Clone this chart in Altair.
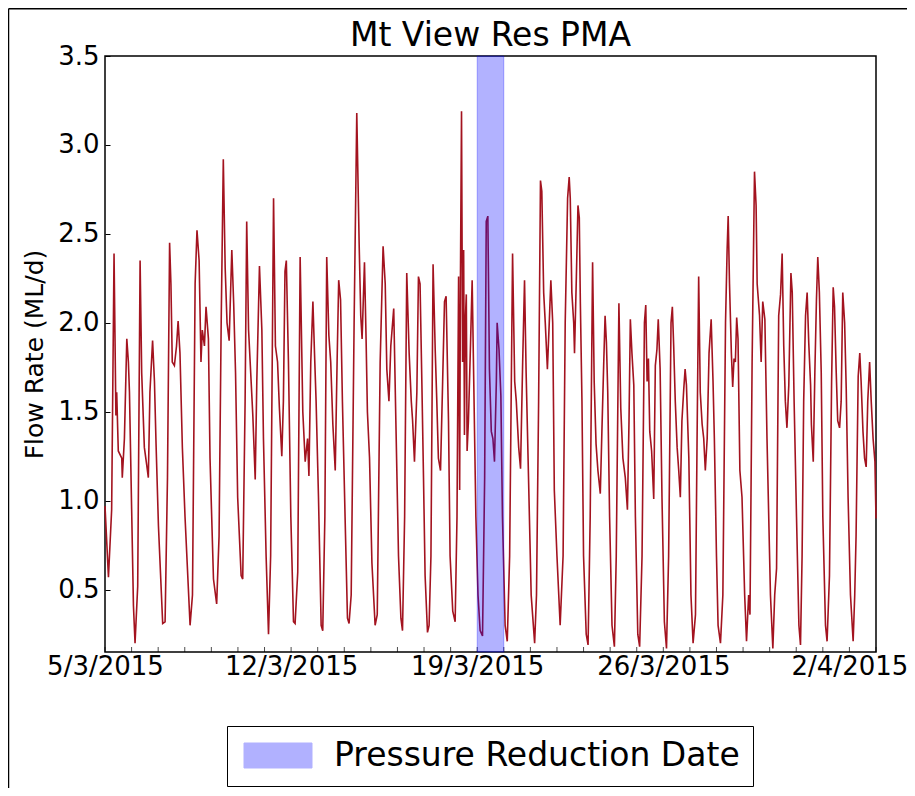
import altair as alt
import pandas as pd

TITLE = "Mt View Res PMA"
Y_TITLE = "Flow Rate (ML/d)"
LEGEND_LABEL = "Pressure Reduction Date"
x_tick_days = [0, 7, 14, 21, 28]
x_tick_labels = ["5/3/2015", "12/3/2015", "19/3/2015", "26/3/2015", "2/4/2015"]
x_minor_tick_days = list(range(0, 30))
y_ticks = [0.5, 1.0, 1.5, 2.0, 2.5, 3.0, 3.5]
band_start_day = [14.0]
band_end_day = [15.0]

# days since 5/3/2015 00:00
t_days = [
    0.00, 0.13, 0.25, 0.34, 0.41, 0.44, 0.50, 0.63, 0.65, 0.73,
    0.82, 0.88, 0.92, 1.07, 1.13, 1.23, 1.32, 1.38, 1.48, 1.57,
    1.63, 1.69, 1.79, 1.86, 1.92, 2.01, 2.17, 2.26, 2.35, 2.43,
    2.48, 2.53, 2.61, 2.69, 2.75, 2.82, 2.91, 3.01, 3.20, 3.29,
    3.39, 3.46, 3.54, 3.61, 3.66, 3.74, 3.80, 3.89, 3.95, 4.08,
    4.20, 4.29, 4.37, 4.45, 4.52, 4.59, 4.67, 4.77, 4.84, 4.91,
    4.99, 5.12, 5.18, 5.27, 5.33, 5.40,
    5.56, 5.65, 5.71, 5.81, 5.90, 5.96, 6.06, 6.15, 6.23, 6.34,
    6.41, 6.49, 6.56, 6.65, 6.71, 6.77, 6.82, 6.90, 6.99, 7.09,
    7.15, 7.25, 7.34, 7.44, 7.53, 7.62, 7.67, 7.74, 7.82, 7.88,
    7.94, 8.03, 8.13, 8.19, 8.27, 8.34, 8.42, 8.49, 8.57, 8.66,
    8.73, 8.79, 8.86, 8.93, 9.03, 9.12, 9.18, 9.26, 9.37, 9.47,
    9.56, 9.62, 9.67, 9.76, 9.82, 9.87, 9.95, 10.04, 10.16, 10.24,
    10.35, 10.46, 10.54, 10.60, 10.68, 10.75, 10.86, 10.94, 11.04, 11.13,
    11.19, 11.27,
    11.35, 11.44, 11.52, 11.57, 11.64, 11.73, 11.79, 11.85, 11.92, 11.98,
    12.04, 12.13, 12.19, 12.26, 12.34, 12.42, 12.48, 12.54, 12.62, 12.70,
    12.77, 12.83, 12.92, 12.98, 13.08, 13.17, 13.24, 13.30, 13.34, 13.37,
    13.41, 13.45, 13.49, 13.52, 13.55, 13.59, 13.62, 13.67, 13.75, 13.81,
    13.87, 13.95, 14.03, 14.11, 14.20, 14.28, 14.34, 14.40, 14.46, 14.53,
    14.59, 14.65, 14.72, 14.75, 14.82, 14.89, 14.95, 15.05, 15.13, 15.22,
    15.33, 15.41, 15.47, 15.56, 15.63, 15.71, 15.78, 15.84, 15.93, 16.03,
    16.16, 16.23, 16.31, 16.38, 16.43, 16.50, 16.56, 16.64, 16.71, 16.77,
    16.84, 16.90, 17.00, 17.12,
    17.23, 17.31, 17.40, 17.46, 17.50, 17.56, 17.63, 17.66, 17.73, 17.79,
    17.84, 17.88, 17.94, 18.00, 18.10, 18.17, 18.25, 18.34, 18.40, 18.47,
    18.54, 18.63, 18.69, 18.76, 18.81, 18.86, 18.91, 18.98, 19.07, 19.16,
    19.23, 19.33, 19.40, 19.48, 19.57, 19.65, 19.71, 19.76, 19.82, 19.89,
    19.95, 20.04, 20.11, 20.20, 20.29, 20.34, 20.39, 20.44, 20.49, 20.56,
    20.64, 20.70, 20.76, 20.81, 20.88, 20.95, 21.04, 21.12, 21.20, 21.29,
    21.34, 21.39, 21.45, 21.52, 21.58, 21.64, 21.70, 21.77, 21.82, 21.87,
    21.96, 22.04, 22.12, 22.21, 22.27, 22.33, 22.39, 22.46, 22.52, 22.58,
    22.65, 22.72, 22.80, 22.87, 22.92, 23.00,
    23.06, 23.15, 23.24, 23.34, 23.40, 23.44, 23.49, 23.56, 23.61, 23.66,
    23.71, 23.76, 23.81, 23.88, 23.96, 24.06, 24.13, 24.21, 24.26, 24.34,
    24.43, 24.49, 24.53, 24.62, 24.68, 24.74, 24.82, 24.90, 25.03, 25.12,
    25.19, 25.26, 25.34, 25.41, 25.47, 25.53, 25.59, 25.65, 25.72, 25.80,
    25.85, 25.92, 26.01, 26.10, 26.16, 26.22, 26.28, 26.35, 26.41, 26.47,
    26.54, 26.57, 26.64, 26.70, 26.76, 26.81, 26.87, 26.94, 27.00, 27.10,
    27.16, 27.25, 27.33, 27.39, 27.44, 27.50, 27.56, 27.63, 27.69, 27.75,
    27.82, 27.88, 27.95, 28.04, 28.14, 28.20, 28.25, 28.33, 28.39, 28.44,
    28.51, 28.57, 28.63, 28.69, 28.76, 28.82, 28.89, 28.96, 29.00,
]

flow = [
    0.97, 0.57, 0.95, 2.39, 1.48, 1.61, 1.28, 1.24, 1.13, 1.35,
    1.91, 1.78, 1.61, 0.41, 0.20, 0.52, 2.35, 1.72, 1.30, 1.20,
    1.13, 1.61, 1.90, 1.67, 1.32, 0.86, 0.31, 0.32, 1.13, 2.45,
    2.22, 1.78, 1.76, 1.87, 2.01, 1.83, 1.30, 0.91, 0.30, 0.47,
    2.22, 2.52, 2.35, 1.78, 1.96, 1.87, 2.09, 1.91, 1.24, 0.56,
    0.42, 0.80, 2.00, 2.92, 2.31, 2.00, 1.90, 2.41, 2.11, 1.72,
    1.02, 0.58, 0.56, 1.56, 2.57, 1.96,
    1.48, 1.12, 1.67, 2.32, 1.96, 1.35, 0.69, 0.25, 0.69, 2.70,
    1.87, 1.78, 1.52, 1.25, 1.56, 2.29, 2.35, 1.78, 0.91, 0.32,
    0.31, 0.60, 2.37, 1.50, 1.22, 1.35, 1.14, 1.78, 2.12, 1.83,
    1.56, 1.02, 0.30, 0.27, 0.91, 2.37, 1.93, 1.78, 1.43, 1.17,
    1.78, 2.24, 2.13, 1.56, 0.91, 0.34, 0.31, 0.47, 2.00, 3.18,
    2.44, 2.04, 1.91, 2.34, 1.91, 1.50, 1.24, 0.65, 0.30, 0.36,
    1.78, 2.43, 2.22, 1.74, 1.56, 1.87, 2.08, 1.45, 0.69, 0.34,
    0.27, 0.91,
    2.28, 1.83, 1.56, 1.45, 1.22, 1.61, 2.26, 2.22, 1.65, 1.13,
    0.58, 0.26, 0.30, 0.69, 2.33, 1.85, 1.56, 1.24, 1.17, 1.67,
    2.12, 2.15, 1.45, 0.69, 0.38, 0.32, 0.91, 2.26, 1.06, 2.26,
    3.19, 1.78, 2.41, 1.37, 2.00, 2.16, 1.28, 1.45, 1.89, 2.24,
    1.67, 0.91, 0.47, 0.27, 0.24, 1.13, 2.57, 2.60, 1.74, 1.39,
    1.35, 1.22, 1.67, 2.00, 1.85, 1.59, 0.91, 0.30, 0.21, 0.69,
    2.39, 1.67, 1.56, 1.30, 1.18, 1.78, 2.24, 1.72, 1.13, 0.47,
    0.20, 0.47, 1.56, 2.80, 2.74, 2.17, 2.00, 1.74, 2.00, 2.24,
    2.00, 1.06, 0.69, 0.30,
    0.69, 2.00, 2.70, 2.82, 2.70, 2.17, 2.00, 1.83, 2.26, 2.66,
    2.59, 2.11, 1.56, 0.69, 0.25, 0.19, 0.91, 2.34, 1.67, 1.32,
    1.17, 1.04, 1.39, 1.78, 2.04, 1.89, 1.61, 0.91, 0.30, 0.18,
    0.69, 2.11, 1.52, 1.24, 1.13, 0.95, 1.45, 2.02, 1.83, 1.65,
    0.91, 0.25, 0.18, 0.69, 2.00, 2.10, 1.67, 1.80, 1.39, 1.28,
    1.01, 1.76, 1.85, 2.02, 1.74, 1.02, 0.32, 0.17, 0.69, 2.00,
    2.09, 1.87, 1.56, 1.30, 1.17, 1.02, 1.45, 1.63, 1.74, 1.65,
    1.24, 0.47, 0.20, 0.36, 1.35, 2.26, 1.61, 1.43, 1.35, 1.17,
    1.35, 1.83, 2.02, 1.67, 1.35, 0.69,
    0.30, 0.20, 0.47, 2.00, 2.41, 2.60, 2.22, 1.83, 1.64, 1.80,
    1.78, 2.03, 1.91, 1.17, 1.02, 0.47, 0.21, 0.47, 0.36, 1.78,
    2.85, 2.66, 2.22, 2.04, 1.78, 2.12, 2.02, 1.35, 0.47, 0.17,
    0.47, 0.62, 2.04, 2.16, 2.39, 1.87, 1.56, 1.41, 1.65, 2.28,
    2.17, 1.56, 0.91, 0.30, 0.19, 0.69, 1.56, 2.04, 2.17, 1.89,
    1.65, 1.43, 1.22, 1.72, 2.13, 2.37, 2.17, 1.72, 0.91, 0.30,
    0.21, 0.58, 1.67, 2.20, 2.09, 1.74, 1.45, 1.41, 1.56, 2.17,
    2.00, 1.63, 1.02, 0.47, 0.21, 0.47, 0.80, 1.70, 1.83, 1.67,
    1.39, 1.24, 1.19, 1.56, 1.78, 1.56, 1.35, 1.22, 0.90,
]

df = pd.DataFrame({"t": t_days, "flow": flow})
band = pd.DataFrame({"start": band_start_day, "end": band_end_day,
                     "label": [LEGEND_LABEL]})
minor = pd.DataFrame({"day": x_minor_tick_days})
one = pd.DataFrame({"k": [0]})

label_expr = " : ".join(
    f"datum.value == {d} ? '{l}'" for d, l in zip(x_tick_days, x_tick_labels)
) + " : ''"

FONT = "DejaVu Sans"
W, H = 771, 596
PAD = {"left": 97, "top": 48, "right": 31, "bottom": 136}

x_scale = alt.Scale(domain=[0, 29], nice=False, zero=False)
y_scale = alt.Scale(domain=[0.15, 3.5], nice=False, zero=False)

x_axis = alt.Axis(
    values=x_tick_days, labelExpr=label_expr, domain=False, grid=False,
    ticks=False, labelFontSize=26, labelFont=FONT, labelColor="black",
    labelPadding=1, labelOverlap=False, labelFlush=False, title=None,
)
y_axis = alt.Axis(
    values=y_ticks, format=".1f", domain=False, grid=False,
    tickSize=5, offset=-5, tickColor="black", tickWidth=1,
    labelFontSize=26, labelFont=FONT, labelColor="black", labelPadding=6,
    title=Y_TITLE, titleFontSize=25, titleFont=FONT, titleFontWeight="normal",
    titleColor="black", titlePadding=10,
)

line = alt.Chart(df).mark_line(color="#a3131f", strokeWidth=1.6).encode(
    x=alt.X("t:Q", scale=x_scale, axis=x_axis),
    y=alt.Y("flow:Q", scale=y_scale, axis=y_axis),
)

minor_ticks = alt.Chart(minor).mark_tick(
    orient="vertical", size=5, thickness=1, color="black"
).encode(
    x=alt.X("day:Q", scale=x_scale, axis=x_axis),
    y=alt.value(H - 2.5),
)

rect = alt.Chart(band).mark_rect(
    stroke="#0000ff", strokeWidth=1, fillOpacity=0.3, strokeOpacity=0.3
).encode(
    x=alt.X("start:Q", scale=x_scale, axis=x_axis),
    x2="end:Q",
    fill=alt.Fill(
        "label:N",
        scale=alt.Scale(range=["#0000ff"]),
        legend=alt.Legend(
            title=None, orient="none", legendX=122, legendY=670, padding=13,
            strokeColor="black", fillColor="white",
            labelFontSize=33, labelFont=FONT, labelColor="black",
            labelOffset=61, labelLimit=800,
            symbolType="M-1,-1L4.44,-1L4.44,1L-1,1Z",
            symbolSize=625, symbolStrokeColor="#0000ff",
            symbolStrokeWidth=1, symbolOpacity=0.3,
        ),
    ),
)

frame_top = alt.Chart(one).mark_rule(color="black", strokeWidth=1.5).encode(
    x=alt.value(-96.5), x2=alt.value(820), y=alt.value(-47.25)
)
frame_left = alt.Chart(one).mark_rule(color="black", strokeWidth=1.5).encode(
    x=alt.value(-96.5), y=alt.value(-47.25), y2=alt.value(760)
)

chart = alt.layer(line, minor_ticks, rect, frame_top, frame_left).properties(
    width=W, height=H,
    title=alt.TitleParams(TITLE, fontSize=33, font=FONT, fontWeight="normal",
                          color="black", offset=-70.5, baseline="alphabetic",
                          anchor="middle"),
    autosize=alt.AutoSizeParams(type="none"),
    padding=PAD,
).configure(font=FONT).configure_view(stroke="black", strokeWidth=1.5)

chart.save("out.html", embed_options={"renderer": "svg", "actions": False})
